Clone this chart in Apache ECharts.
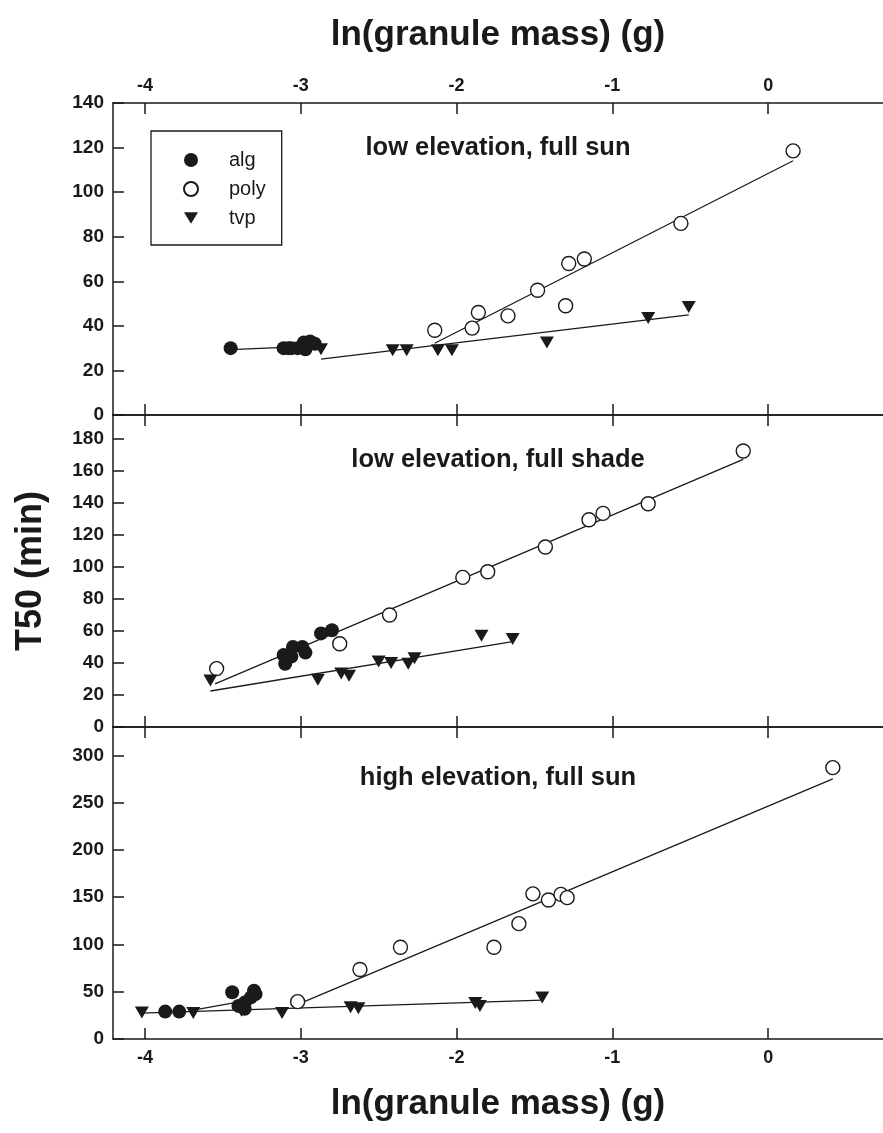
<!DOCTYPE html>
<html>
<head>
<meta charset="utf-8">
<script src="https://cdn.jsdelivr.net/npm/echarts@6/dist/echarts.min.js"></script>
<style>
  html, body { margin: 0; padding: 0; background: #fff; }
  #chart { width: 883px; height: 1133px; }
</style>
</head>
<body>
<div id="chart"></div>
<script>
// x ticks and y ranges
const xTicks = [-4, -3, -2, -1, 0];
const yMax = [140, 195, 330];
const yTicks = [
  [0, 20, 40, 60, 80, 100, 120, 140],
  [0, 20, 40, 60, 80, 100, 120, 140, 160, 180],
  [0, 50, 100, 150, 200, 250, 300]
];
const panelTitles = ['low elevation, full sun', 'low elevation, full shade', 'high elevation, full sun'];

// low elevation, full sun
const alg1 = [[-3.45,30],[-3.11,30],[-3.08,30],[-3.06,30],[-3.02,30],[-2.98,32.5],[-2.97,29.5],[-2.94,33],[-2.91,32]];
const poly1 = [[-2.14,38],[-1.90,39],[-1.86,46],[-1.67,44.5],[-1.48,56],[-1.30,49],[-1.28,68],[-1.18,70],[-0.56,86],[0.16,118.5]];
const tvp1 = [[-2.87,29.5],[-2.41,29],[-2.32,29],[-2.12,29],[-2.03,29],[-1.42,32.5],[-0.77,43.5],[-0.51,48.5]];
const algFit1 = [[-3.45,29.3],[-2.88,31]];
const polyFit1 = [[-2.14,32.2],[0.16,114.1]];
const tvpFit1 = [[-2.87,25.1],[-0.51,44.9]];

// low elevation, full shade
const alg2 = [[-3.11,45],[-3.10,39.5],[-3.06,44],[-3.05,50],[-2.99,50],[-2.97,46.5],[-2.87,58.5],[-2.80,60.5]];
const poly2 = [[-3.54,36.5],[-2.75,52],[-2.43,70],[-1.96,93.5],[-1.80,97],[-1.43,112.5],[-1.15,129.5],[-1.06,133.5],[-0.77,139.5],[-0.16,172.5]];
const tvp2 = [[-3.58,29],[-2.89,29.5],[-2.74,33.5],[-2.69,32],[-2.50,41],[-2.42,40],[-2.31,39.5],[-2.27,43],[-1.84,57],[-1.64,55]];
const polyFit2 = [[-3.55,26.9],[-0.16,167.3]];
const tvpFit2 = [[-3.58,22.5],[-1.64,53.3]];

// high elevation, full sun
const alg3 = [[-3.87,29],[-3.78,29],[-3.44,49.5],[-3.40,35],[-3.36,32],[-3.36,38.5],[-3.32,44],[-3.30,51],[-3.29,47.5]];
const poly3 = [[-3.02,39.5],[-2.62,73.5],[-2.36,97],[-1.76,97],[-1.60,122],[-1.51,153.5],[-1.41,147],[-1.33,153],[-1.29,149.5],[0.415,287]];
const tvp3 = [[-4.02,28],[-3.69,27.5],[-3.38,30],[-3.12,27.5],[-2.68,33.5],[-2.63,32.5],[-1.88,38],[-1.85,35],[-1.45,44]];
const algFit3 = [[-3.69,30.5],[-3.36,40.4]];
const polyFit3 = [[-3.0,38],[0.415,275.2]];
const tvpFit3 = [[-4.02,27.3],[-1.45,41.1]];

const panels = [
  { alg: alg1, poly: poly1, tvp: tvp1, fits: [algFit1, polyFit1, tvpFit1] },
  { alg: alg2, poly: poly2, tvp: tvp2, fits: [polyFit2, tvpFit2] },
  { alg: alg3, poly: poly3, tvp: tvp3, fits: [algFit3, polyFit3, tvpFit3] }
];

const font = "'Liberation Sans', Arial, Helvetica, sans-serif";
const ink = '#1a1a1a';
const triPath = 'path://M0,0 L12,0 L6,10 Z';
const gridTop = [103, 415, 727];
const gridH = 312;
const titleY = [148, 460, 778];

const chart = echarts.init(document.getElementById('chart'));

let grids = [], xAxes = [], yAxes = [], series = [], texts = [];

const tickStyle = { color: ink, width: 1.5 };

panels.forEach((p, i) => {
  grids.push({ left: 113, right: 0, top: gridTop[i], height: gridH });

  // bottom x axis
  xAxes.push({
    type: 'value', gridIndex: i, position: 'bottom', min: -4.205, max: 0.737,
    axisLine: { show: true, onZero: false, lineStyle: tickStyle },
    axisTick: { show: true, inside: true, length: 11, customValues: xTicks, lineStyle: tickStyle },
    axisLabel: {
      show: i === 2, customValues: xTicks, margin: 10,
      fontFamily: font, fontSize: 18, fontWeight: 'bold', color: ink
    },
    splitLine: { show: false },
    name: i === 2 ? 'ln(granule mass) (g)' : '',
    nameLocation: 'middle', nameGap: 48,
    nameTextStyle: { fontFamily: font, fontSize: 35, fontWeight: 'bold', color: ink }
  });
  // top x axis
  xAxes.push({
    type: 'value', gridIndex: i, position: 'top', min: -4.205, max: 0.737,
    axisLine: { show: true, onZero: false, lineStyle: tickStyle },
    axisTick: { show: true, inside: true, length: 11, customValues: xTicks, lineStyle: tickStyle },
    axisLabel: {
      show: i === 0, customValues: xTicks, margin: 8,
      fontFamily: font, fontSize: 18, fontWeight: 'bold', color: ink
    },
    splitLine: { show: false },
    name: i === 0 ? 'ln(granule mass) (g)' : '',
    nameLocation: 'middle', nameGap: 50,
    nameTextStyle: { fontFamily: font, fontSize: 35, fontWeight: 'bold', color: ink }
  });

  yAxes.push({
    type: 'value', gridIndex: i, position: 'left', min: 0, max: yMax[i],
    axisLine: { show: true, onZero: false, lineStyle: tickStyle },
    axisTick: { show: true, inside: true, length: 11, customValues: yTicks[i], lineStyle: tickStyle },
    axisLabel: {
      customValues: yTicks[i], margin: 9,
      fontFamily: font, fontSize: 19, fontWeight: 'bold', color: ink
    },
    splitLine: { show: false },
    name: i === 1 ? 'T50 (min)' : '',
    nameLocation: 'middle', nameGap: 64,
    nameTextStyle: { fontFamily: font, fontSize: 36, fontWeight: 'bold', color: ink }
  });

  p.fits.forEach(f => {
    series.push({
      type: 'line', xAxisIndex: 2 * i, yAxisIndex: i, data: f,
      symbol: 'none', silent: true, z: 1,
      lineStyle: { color: ink, width: 1.3 }
    });
  });

  series.push({
    name: 'alg', type: 'scatter', xAxisIndex: 2 * i, yAxisIndex: i, data: p.alg,
    symbol: 'circle', symbolSize: 14, z: 3,
    itemStyle: { color: ink, opacity: 1 }
  });
  series.push({
    name: 'poly', type: 'scatter', xAxisIndex: 2 * i, yAxisIndex: i, data: p.poly,
    symbol: 'circle', symbolSize: 14, z: 3,
    itemStyle: { color: '#fff', borderColor: ink, borderWidth: 1.4, opacity: 1 }
  });
  series.push({
    name: 'tvp', type: 'scatter', xAxisIndex: 2 * i, yAxisIndex: i, data: p.tvp,
    symbol: triPath, symbolSize: [14, 12], z: 3,
    itemStyle: { color: ink, opacity: 1 }
  });

  texts.push({
    type: 'text', x: 498, y: titleY[i],
    style: {
      text: panelTitles[i],
      font: 'bold 25.5px ' + font, fill: ink,
      textAlign: 'center', textVerticalAlign: 'middle'
    }
  });
});

const option = {
  backgroundColor: '#fff',
  animation: false,
  grid: grids,
  xAxis: xAxes,
  yAxis: yAxes,
  legend: {
    left: 151, top: 131, orient: 'vertical',
    data: [
      { name: 'alg', icon: 'circle' },
      { name: 'poly', icon: 'circle' },
      { name: 'tvp', icon: triPath }
    ],
    itemWidth: 14, itemHeight: 14, itemGap: 9,
    padding: [19, 16, 17, 32],
    borderColor: ink, borderWidth: 1.3,
    selectedMode: false,
    textStyle: { fontFamily: font, fontSize: 20, color: ink, padding: [0, 0, 0, 26] }
  },
  graphic: texts,
  series: series
};

chart.setOption(option);
</script>
</body>
</html>
